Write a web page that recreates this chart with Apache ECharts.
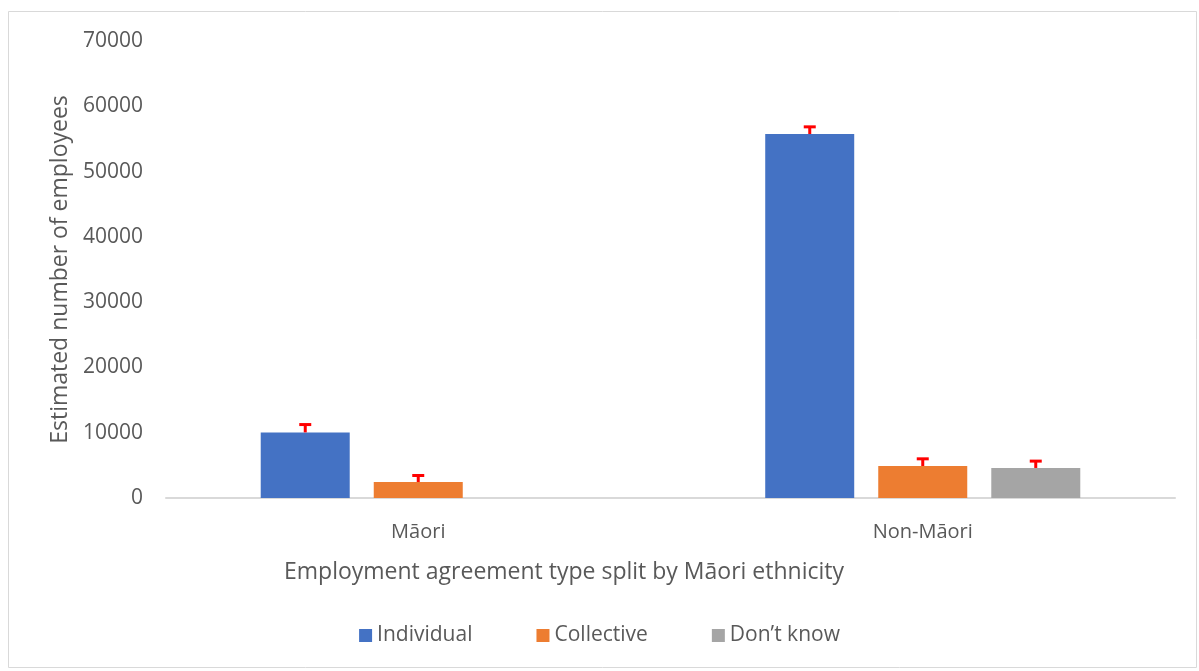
<!DOCTYPE html>
<html>
<head>
<meta charset="utf-8">
<script src="https://cdn.jsdelivr.net/npm/echarts@6/dist/echarts.min.js"></script>
<style>
  html, body { margin: 0; padding: 0; background: #fff; }
  #chart { width: 1199px; height: 671px; }
</style>
</head>
<body>
<div id="chart"></div>
<script>
  // categories and series
  const groups = ['Māori', 'Non-Māori'];
  const seriesNames = ['Individual', 'Collective', 'Don’t know'];
  const individual = [10050, 55750];
  const collective = [2450, 4900];
  const dontKnow = [null, 4600];
  // upper error amount for each bar
  const individualErr = [1200, 1100];
  const collectiveErr = [1000, 1100];
  const dontKnowErr = [null, 1050];
  const yTicks = [0, 10000, 20000, 30000, 40000, 50000, 60000, 70000];

  const colors = ['#4472c4', '#ed7d31', '#a5a5a5'];
  const barW = 89;
  const gapPx = 24;
  const font = 'Open Sans, Noto Sans, sans-serif';

  const chart = echarts.init(document.getElementById('chart'));

  const values = [individual, collective, dontKnow];
  const errs = [individualErr, collectiveErr, dontKnowErr];

  // error bars drawn as a custom series, shifted to sit on each bar
  function errorSeries(idx) {
    const data = [];
    values[idx].forEach((v, i) => {
      if (v != null) data.push([i, v, v + errs[idx][i]]);
    });
    const shift = (idx - 1) * (barW + gapPx);
    return {
      type: 'custom',
      name: seriesNames[idx] + ' err',
      data: data,
      z: 10,
      silent: true,
      renderItem: function (params, api) {
        const lo = api.coord([api.value(0), api.value(1)]);
        const hi = api.coord([api.value(0), api.value(2)]);
        const x = lo[0] + shift;
        const style = { stroke: '#ff0000', lineWidth: 3 };
        return {
          type: 'group',
          children: [
            { type: 'line', shape: { x1: x, y1: lo[1], x2: x, y2: hi[1] }, style: style },
            { type: 'line', shape: { x1: x - 6, y1: hi[1], x2: x + 6, y2: hi[1] }, style: style }
          ]
        };
      }
    };
  }

  const option = {
    animation: false,
    backgroundColor: '#fff',
    graphic: [{
      type: 'rect',
      shape: { x: 8.5, y: 11.5, width: 1188, height: 656 },
      style: { fill: 'none', stroke: '#d9d9d9', lineWidth: 1 },
      silent: true
    }],
    title: {
      text: 'Employment agreement type split by Māori ethnicity',
      left: 279,
      top: 556,
      textStyle: { color: '#595959', fontSize: 23, fontWeight: 'normal', fontFamily: font }
    },
    legend: {
      data: seriesNames,
      bottom: 20,
      left: 'center',
      itemGap: 64,
      itemWidth: 13,
      itemHeight: 13,
      icon: 'rect',
      textStyle: { color: '#595959', fontSize: 21, fontFamily: font }
    },
    grid: { left: 166, right: 24, top: 41, bottom: 173 },
    xAxis: {
      type: 'category',
      data: groups,
      axisLine: { lineStyle: { color: '#d9d9d9', width: 2 } },
      axisTick: { show: false },
      axisLabel: { color: '#595959', fontSize: 20, fontFamily: font, margin: 24 }
    },
    yAxis: {
      type: 'value',
      min: yTicks[0],
      max: yTicks[yTicks.length - 1],
      interval: 10000,
      name: 'Estimated number of employees',
      nameLocation: 'middle',
      nameGap: 93,
      nameTextStyle: { color: '#595959', fontSize: 23, fontFamily: font },
      axisLine: { show: false },
      axisTick: { show: false },
      splitLine: { show: false },
      axisLabel: {
        color: '#595959', fontSize: 21, fontFamily: font, margin: 23,
        formatter: (v) => String(v)
      }
    },
    series: seriesNames.map((name, idx) => ({
      type: 'bar',
      name: name,
      data: values[idx],
      barWidth: barW,
      barGap: (gapPx / barW * 100).toFixed(1) + '%',
      itemStyle: { color: colors[idx] }
    })).concat([0, 1, 2].map(errorSeries))
  };

  chart.setOption(option);
</script>
</body>
</html>
